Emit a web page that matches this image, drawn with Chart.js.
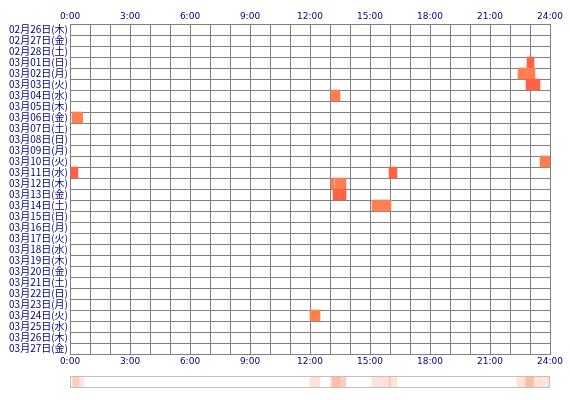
<!DOCTYPE html>
<html><head><meta charset="utf-8">
<script src="https://cdn.jsdelivr.net/npm/chart.js@4"></script>
<style>body{margin:0;background:#fff}#w{position:relative;width:570px;height:400px}
#c1{position:absolute;left:0;top:0}#b{position:absolute;left:70px;top:376px;width:480px;height:12px;border:1px solid #c0c0c0;box-sizing:border-box}</style>
</head><body><div id="w"><canvas id="c1" width="570" height="370"></canvas><div id="b"><canvas id="c2"></canvas></div></div>
<script>
const dates=["02月26日(木)","02月27日(金)","02月28日(土)","03月01日(日)","03月02日(月)","03月03日(火)","03月04日(水)","03月05日(木)","03月06日(金)","03月07日(土)","03月08日(日)","03月09日(月)","03月10日(火)","03月11日(水)","03月12日(木)","03月13日(金)","03月14日(土)","03月15日(日)","03月16日(月)","03月17日(火)","03月18日(水)","03月19日(木)","03月20日(金)","03月21日(土)","03月22日(日)","03月23日(月)","03月24日(火)","03月25日(水)","03月26日(木)","03月27日(金)"];
const eventDates=["03月01日(日)","03月02日(月)","03月03日(火)","03月04日(水)","03月06日(金)","03月10日(火)","03月11日(水)","03月11日(水)","03月12日(木)","03月12日(木)","03月13日(金)","03月14日(土)","03月24日(火)"];
const eventStart=[22.85,22.4,22.8,13.05,0.1,23.5,15.95,0.05,13.05,13.25,13.15,15.1,12.0];
const eventEnd=[23.2,23.25,23.5,13.5,0.63,24.0,16.35,0.4,13.2,13.8,13.8,16.05,12.5];
const eventKind=[1,0,1,0,0,0,1,1,0,0,1,0,0];
const colors=["#FF7F50","#FF6347"];
const data=eventDates.map((d,i)=>({y:d,x:[eventStart[i],eventEnd[i]]}));
const tick=v=>v%3===0?v+":00":"";
const xs=(pos)=>({type:'linear',position:pos,min:0,max:24,
  ticks:{stepSize:1,autoSkip:false,maxRotation:0,color:'#000080',font:{family:'DejaVu Sans',size:9},padding:2,callback:tick},
  grid:{color:'#808080',lineWidth:1,drawTicks:false},border:{color:'#808080'},
  afterFit:s=>{s.height=pos==='top'?24:16;}});
new Chart(document.getElementById('c1'),{type:'bar',
 data:{labels:dates,datasets:[{data,backgroundColor:eventKind.map(k=>colors[k]),grouped:false,barPercentage:1,categoryPercentage:1,borderWidth:0}]},
 options:{responsive:false,animation:false,indexAxis:'y',layout:{padding:{right:20,left:0,top:0,bottom:0}},
  plugins:{legend:{display:false},tooltip:{enabled:false}},
  scales:{x:xs('bottom'),x2:{...xs('top')},
   y:{type:'category',offset:true,ticks:{color:'#000080',font:{family:'Noto Sans CJK JP',size:10},padding:2,autoSkip:false},
     grid:{color:'#808080',offset:true,drawTicks:false},border:{color:'#808080'},afterFit:s=>{s.width=70;}}}}});
const c2=document.getElementById('c2');
new Chart(c2,{type:'bar',
 data:{labels:['a'],datasets:eventStart.map((s,i)=>({data:[[s,eventEnd[i]]],backgroundColor:'rgba(255,127,80,0.22)',grouped:false,barPercentage:1,categoryPercentage:1,borderWidth:0}))},
 options:{responsive:true,maintainAspectRatio:false,animation:false,indexAxis:'y',layout:{padding:0},
  plugins:{legend:{display:false},tooltip:{enabled:false}},
  scales:{x:{type:'linear',min:0,max:24,display:false},y:{display:false}}}});
</script></body></html>
